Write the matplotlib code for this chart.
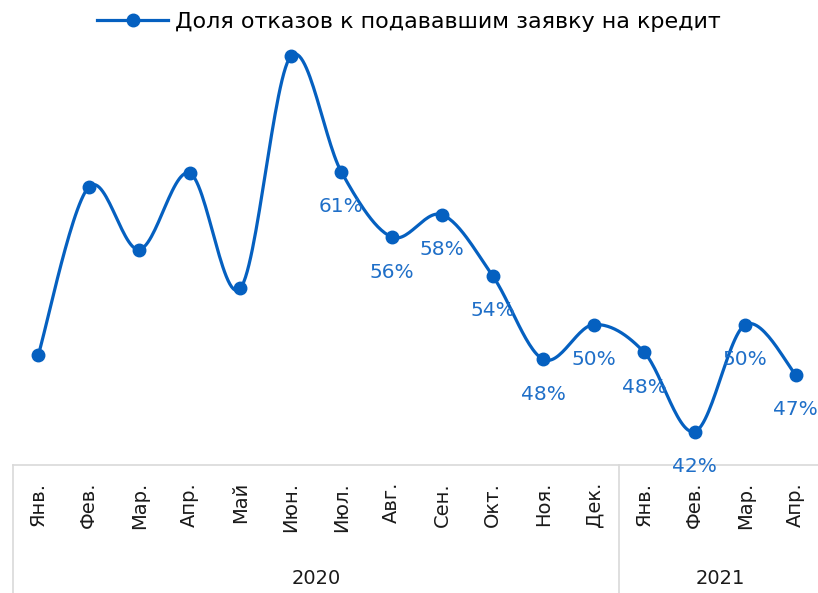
import numpy as np
import matplotlib
matplotlib.use("Agg")
import matplotlib.pyplot as plt
from matplotlib.lines import Line2D

months = ["Янв.", "Фев.", "Мар.", "Апр.", "Май", "Июн.", "Июл.", "Авг.", "Сен.", "Окт.", "Ноя.", "Дек.",
          "Янв.", "Фев.", "Мар.", "Апр."]
years = ["2020", "2021"]
year_counts = [12, 4]
values = [47.9, 60.0, 55.5, 61.0, 52.7, 69.4, 61.1, 56.4, 58.0, 53.6, 47.6, 50.1, 48.1, 42.4, 50.1, 46.5]
labels = [None, None, None, None, None, None, "61%", "56%", "58%", "54%", "48%", "50%", "48%", "42%", "50%", "47%"]
series_name = "Доля отказов к подававшим заявку на кредит"

LINE = "#0560C0"
LAB = "#1F6FC8"
GRID = "#D9D9D9"

plt.rcParams['font.family'] = ['DejaVu Sans']

W, H = 818, 593
PT = 0.72  # points per pixel at dpi 100
fig = plt.figure(figsize=(W / 100, H / 100), dpi=100)
ax_left, ax_right = 13, 821
ax_bottom, ax_top = 465, 48
ax = fig.add_axes([ax_left / W, 1 - ax_bottom / H, (ax_right - ax_left) / W, (ax_bottom - ax_top) / H])

x = np.arange(len(values), dtype=float)
y = np.array(values, dtype=float)

# Smoothed curve (Bezier with Catmull-Rom style control points)
xs, ys = [], []
n = len(x)
t = np.linspace(0, 1, 30)
for i in range(n - 1):
    p0 = np.array([x[max(i - 1, 0)], y[max(i - 1, 0)]])
    p1 = np.array([x[i], y[i]])
    p2 = np.array([x[i + 1], y[i + 1]])
    p3 = np.array([x[min(i + 2, n - 1)], y[min(i + 2, n - 1)]])
    c1 = p1 + (p2 - p0) / 6
    c2 = p2 - (p3 - p1) / 6
    b = ((1 - t) ** 3)[:, None] * p1 + (3 * (1 - t) ** 2 * t)[:, None] * c1 + \
        (3 * (1 - t) * t ** 2)[:, None] * c2 + (t ** 3)[:, None] * p2
    xs.extend(b[:, 0])
    ys.extend(b[:, 1])

ax.plot(xs, ys, color=LINE, lw=2.3, solid_capstyle='round', zorder=3)
ax.plot(x, y, 'o', color=LINE, ms=9, zorder=4)

for xi, yi, lab in zip(x, y, labels):
    if lab:
        ax.annotate(lab, (xi, yi), xytext=(0, -35 * PT), textcoords='offset points',
                    ha='center', va='center', color=LAB, fontsize=14.5)

ax.set_xlim(-0.5, len(values) - 0.5)
ax.set_ylim(40, 70)
for s in ['top', 'right', 'left']:
    ax.spines[s].set_visible(False)
ax.spines['bottom'].set_color(GRID)
ax.spines['bottom'].set_linewidth(1.2)
ax.set_yticks([])
ax.set_xticks(x)
ax.set_xticklabels([])
ax.tick_params(axis='x', length=0)

# month labels
for xi, m in zip(x, months):
    ax.annotate(m, (xi, 40), xytext=(0, -17 * PT), textcoords='offset points', xycoords='data',
                rotation=90, ha='center', va='top', fontsize=14, color='#1a1a1a',
                annotation_clip=False)

# year groups and separators
start = 0
bounds = [-0.5]
for yr, cnt in zip(years, year_counts):
    mid = start + (cnt - 1) / 2
    ax.annotate(yr, (mid, 40), xytext=(0, -113 * PT), textcoords='offset points',
                ha='center', va='center', fontsize=14, color='#1a1a1a', annotation_clip=False)
    start += cnt
    bounds.append(start - 0.5)
for b in bounds:
    ax.add_line(Line2D([b, b], [40, 40 - 128 / 13.9], color=GRID, lw=1.2, clip_on=False))

handle = Line2D([], [], color=LINE, lw=2.3, marker='o', ms=9)
fig.legend([handle], [series_name], loc='center', bbox_to_anchor=(0.5, 1 - 22 / H),
           frameon=False, fontsize=16, handlelength=3.2, handletextpad=0.3)

fig.savefig("out.png", dpi=100)
